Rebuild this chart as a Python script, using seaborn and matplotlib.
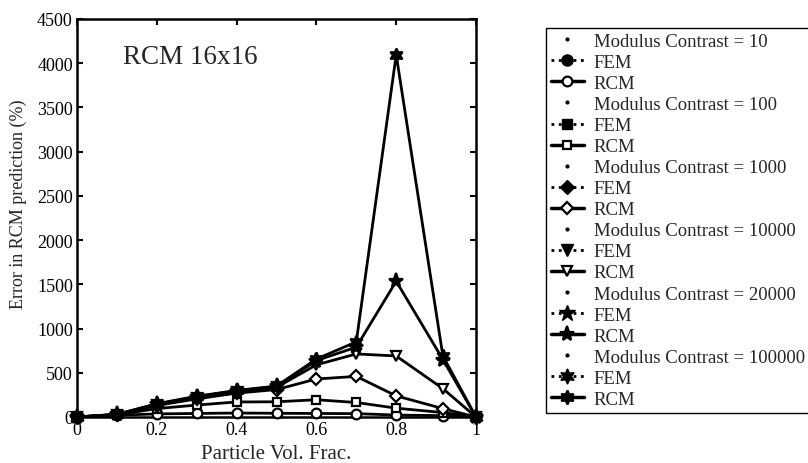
import numpy as np
import pandas as pd
import seaborn as sns
import matplotlib
matplotlib.use("Agg")
import matplotlib.pyplot as plt
from matplotlib.lines import Line2D

# ---------------- data ----------------
vol_frac = [0, 0.1, 0.2, 0.3, 0.4, 0.5, 0.6, 0.7, 0.8, 0.917, 1]
contrasts = ["10", "100", "1000", "10000", "20000", "100000"]
rcm_c10 = [0, 20, 35, 40, 45, 42, 40, 38, 22, 15, 0]
rcm_c100 = [0, 25, 95, 135, 170, 172, 195, 164, 100, 50, 0]
rcm_c1000 = [0, 28, 130, 205, 270, 310, 430, 459, 239, 95, 0]
rcm_c10000 = [0, 28, 140, 220, 285, 335, 590, 713, 690, 321, 0]
rcm_c20000 = [0, 30, 145, 230, 295, 345, 638, 790, 1535, 650, 0]
rcm_c100000 = [0, 30, 150, 235, 300, 350, 655, 850, 4095, 690, 0]
rcm_series = [rcm_c10, rcm_c100, rcm_c1000, rcm_c10000, rcm_c20000, rcm_c100000]
x_ticks = [0, 0.2, 0.4, 0.6, 0.8, 1]
x_tick_labels = ["0", "0.2", "0.4", "0.6", "0.8", "1"]
y_ticks = list(range(0, 4501, 500))

markers = ["o", "s", "D", "v", "*", (6, 1, 0)]
msizes = [7, 6, 6, 7, 11, 10]
open_faces = ["white", "white", "white", "white", "black", "black"]

sns.set_style("ticks")
plt.rcParams["font.family"] = ["Liberation Serif", "DejaVu Serif"]
plt.rcParams["mathtext.fontset"] = "stix"

fig = plt.figure(figsize=(8.08, 4.64), dpi=100)
ax = fig.add_axes([77 / 808, 1 - 418 / 464, (476 - 77) / 808, (418 - 20) / 464])

for vals, mk, ms, fc in zip(rcm_series, markers, msizes, open_faces):
    df = pd.DataFrame({"x": vol_frac, "y": vals})
    sns.lineplot(data=df, x="x", y="y", ax=ax, color="black", linewidth=2,
                 marker=mk, markersize=ms, markerfacecolor=fc,
                 markeredgecolor="black", markeredgewidth=1.6, legend=False,
                 clip_on=False, zorder=3)

ax.set_xlim(0, 1)
ax.set_ylim(0, 4500)
ax.set_xticks(x_ticks)
ax.set_xticklabels(x_tick_labels)
ax.set_yticks(y_ticks)
ax.tick_params(direction="in", top=True, right=True, length=4, width=1.5,
               labelsize=13, colors="black", pad=3)
for s in ax.spines.values():
    s.set_linewidth(1.8)
    s.set_color("black")
ax.set_xlabel("Particle Vol. Frac.", fontsize=15, labelpad=4)
ax.set_ylabel("Error in RCM prediction (%)", fontsize=13)
ax.yaxis.set_label_coords(-0.125, 0.538)
ax.text(0.115, 0.907, "RCM 16x16", transform=ax.transAxes, fontsize=19.5,
        ha="left", va="center")

# ---------------- legend ----------------
handles, labels = [], []
for c, mk, ms, fc in zip(contrasts, markers, msizes, open_faces):
    handles.append(Line2D([], [], color="black", linestyle="none", marker=".", markersize=4))
    labels.append(f"Modulus Contrast = {c}")
    handles.append(Line2D([], [], color="black", linestyle=":", linewidth=2, marker=mk,
                          markersize=ms + 1, markerfacecolor="black", markeredgecolor="black"))
    labels.append("FEM")
    handles.append(Line2D([], [], color="black", linestyle="-", linewidth=2.5, marker=mk,
                          markersize=ms, markerfacecolor=fc, markeredgecolor="black",
                          markeredgewidth=1.6))
    labels.append("RCM")

leg = fig.legend(handles, labels, loc="upper left", bbox_to_anchor=(546 / 808, 1 - 29 / 464),
                 fontsize=13.5, frameon=True, fancybox=False, edgecolor="black", framealpha=1,
                 handlelength=1.75, handletextpad=0.55, labelspacing=0.21, borderpad=0.25,
                 borderaxespad=0)
leg.get_frame().set_linewidth(1.0)

fig.savefig("out.png", dpi=100)
